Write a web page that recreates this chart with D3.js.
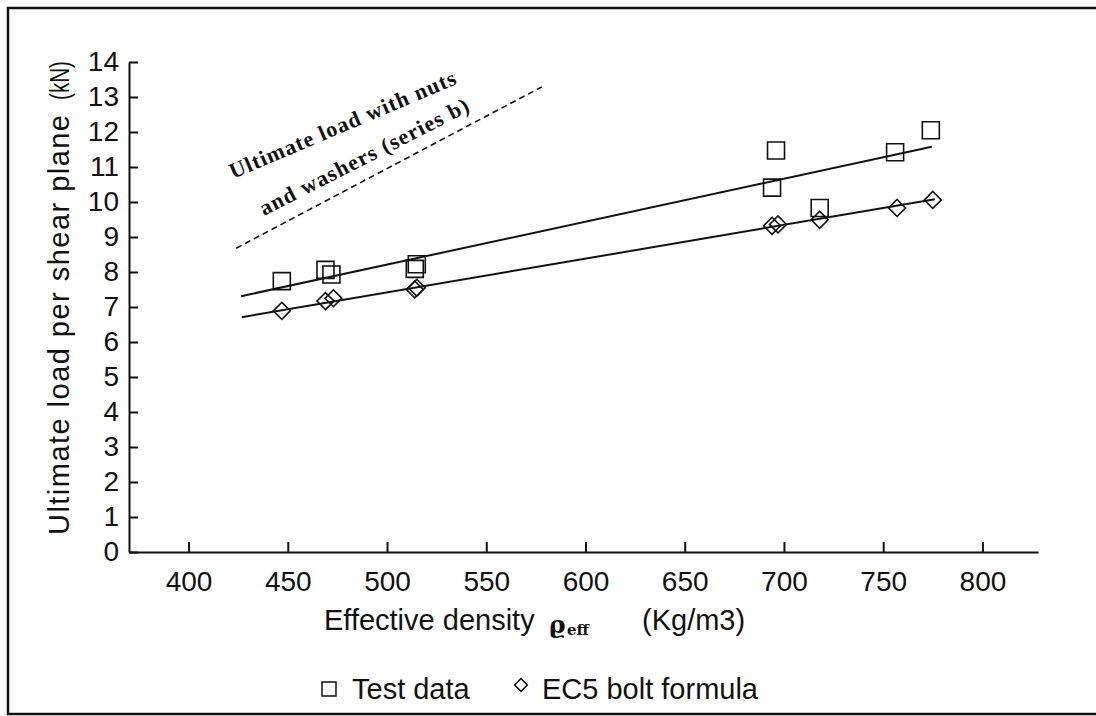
<!DOCTYPE html>
<html>
<head>
<meta charset="utf-8">
<script src="https://cdn.jsdelivr.net/npm/d3@7"></script>
<style>
  body { margin: 0; background: #fff; }
  #chart { width: 1096px; height: 716px; }
  text { font-family: "Liberation Sans", Arial, sans-serif; fill: #111; }
</style>
</head>
<body>
<div id="chart"></div>
<script>
// test data (squares)
const testDensity = [447, 469, 472, 514, 515, 694, 696, 718, 756, 774];
const testLoad = [7.74, 8.06, 7.93, 8.09, 8.22, 10.41, 11.47, 9.83, 11.42, 12.05];

// EC5 bolt formula (diamonds)
const ec5Density = [447, 469, 473, 514, 515, 694, 697, 718, 757, 775];
const ec5Load = [6.89, 7.17, 7.25, 7.50, 7.55, 9.32, 9.36, 9.49, 9.83, 10.06];

// fitted lines, end points
const testFitDensity = [426.5, 774.5];
const testFitLoad = [7.31, 11.58];
const ec5FitDensity = [426.8, 776];
const ec5FitLoad = [6.71, 10.08];

// series b (nuts and washers), dashed
const seriesBDensity = [424, 578];
const seriesBLoad = [8.68, 13.29];

const xTicks = [400, 450, 500, 550, 600, 650, 700, 750, 800];
const yTicks = d3.range(0, 15);

class DensityChart {

    constructor(_config) {
        this.config = {
            parentElement: _config.parentElement,
            width: 1096,
            height: 716
        }
        this.initVis();
    }

    initVis() {
        let vis = this;

        vis.svg = d3.select(vis.config.parentElement).append('svg')
            .attr('width', vis.config.width)
            .attr('height', vis.config.height);

        vis.svg.append('rect')
            .attr('width', vis.config.width)
            .attr('height', vis.config.height)
            .attr('fill', '#fff');

        // scanned frame: top, left and bottom
        vis.svg.append('path')
            .attr('d', 'M1096,8H8V714H1096')
            .attr('fill', 'none')
            .attr('stroke', '#111')
            .attr('stroke-width', 2.5);

        vis.x = d3.scaleLinear()
            .domain([370, 828])
            .range([129, 1038]);

        vis.y = d3.scaleLinear()
            .domain([0, 14])
            .range([552, 62]);

        vis.xAxis = d3.axisBottom(vis.x)
            .tickValues(xTicks)
            .tickSizeInner(-10)
            .tickSizeOuter(0)
            .tickPadding(19);

        vis.yAxis = d3.axisLeft(vis.y)
            .tickValues(yTicks)
            .tickSizeInner(-9)
            .tickSizeOuter(0)
            .tickPadding(10);

        vis.svg.append('g')
            .attr('class', 'x-axis')
            .attr('transform', `translate(0,${vis.y(0)})`);

        vis.svg.append('g')
            .attr('class', 'y-axis')
            .attr('transform', `translate(${vis.x(370)},0)`);

        vis.updateVis();
    }

    updateVis() {
        let vis = this;

        vis.svg.select('.x-axis').call(vis.xAxis);
        vis.svg.select('.y-axis').call(vis.yAxis);

        vis.svg.selectAll('.domain, .tick line')
            .attr('stroke', '#111')
            .attr('stroke-width', 2);

        vis.svg.selectAll('.tick text')
            .attr('fill', '#111')
            .style('font-family', '"Liberation Sans", Arial, sans-serif')
            .style('font-size', '28px');

        const line = d3.line()
            .x(d => vis.x(d[0]))
            .y(d => vis.y(d[1]));

        vis.svg.append('path')
            .datum(d3.zip(seriesBDensity, seriesBLoad))
            .attr('d', line)
            .attr('fill', 'none')
            .attr('stroke', '#111')
            .attr('stroke-width', 1.6)
            .attr('stroke-dasharray', '6,4');

        vis.svg.selectAll('.fit')
            .data([d3.zip(testFitDensity, testFitLoad), d3.zip(ec5FitDensity, ec5FitLoad)])
            .join('path')
            .attr('class', 'fit')
            .attr('d', line)
            .attr('fill', 'none')
            .attr('stroke', '#111')
            .attr('stroke-width', 2);

        vis.svg.selectAll('.square')
            .data(d3.zip(testDensity, testLoad))
            .join('path')
            .attr('class', 'square')
            .attr('d', d3.symbol(d3.symbolSquare, 17 * 17))
            .attr('transform', d => `translate(${vis.x(d[0])},${vis.y(d[1])})`)
            .attr('fill', 'none')
            .attr('stroke', '#111')
            .attr('stroke-width', 1.6);

        vis.svg.selectAll('.diamond')
            .data(d3.zip(ec5Density, ec5Load))
            .join('path')
            .attr('class', 'diamond')
            .attr('d', d3.symbol(d3.symbolSquare, 12 * 12))
            .attr('transform', d => `translate(${vis.x(d[0])},${vis.y(d[1])}) rotate(45)`)
            .attr('fill', 'none')
            .attr('stroke', '#111')
            .attr('stroke-width', 1.6);

        // annotation for series b
        vis.svg.append('text')
            .attr('transform', 'translate(233,179) rotate(-23)')
            .attr('textLength', 244)
            .style('font-family', '"Liberation Serif", "Times New Roman", serif')
            .style('font-size', '22px')
            .style('font-weight', 'bold')
            .text('Ultimate load with nuts');

        vis.svg.append('text')
            .attr('transform', 'translate(264,216) rotate(-27)')
            .attr('textLength', 232)
            .style('font-family', '"Liberation Serif", "Times New Roman", serif')
            .style('font-size', '22px')
            .style('font-weight', 'bold')
            .text('and washers (series b)');

        // y label
        vis.svg.append('text')
            .attr('transform', 'translate(69,535) rotate(-90)')
            .attr('textLength', 420)
            .style('font-size', '29px')
            .text('Ultimate load per shear plane');

        vis.svg.append('text')
            .attr('transform', 'translate(69,100) rotate(-90)')
            .attr('textLength', 39)
            .attr('lengthAdjust', 'spacingAndGlyphs')
            .style('font-size', '27px')
            .text('(kN)');

        // x label
        vis.svg.append('text')
            .attr('x', 324).attr('y', 630)
            .style('font-size', '29px')
            .text('Effective density');

        vis.svg.append('text')
            .attr('x', 549).attr('y', 633)
            .style('font-family', '"DejaVu Serif", serif')
            .style('font-size', '25px')
            .style('font-weight', 'bold')
            .text('ϱ');

        vis.svg.append('text')
            .attr('x', 567).attr('y', 635)
            .style('font-family', '"DejaVu Serif", serif')
            .style('font-size', '15px')
            .style('font-weight', 'bold')
            .text('eff');

        vis.svg.append('text')
            .attr('x', 642).attr('y', 630)
            .style('font-size', '29px')
            .text('(Kg/m3)');

        // legend
        const legend = vis.svg.append('g').attr('class', 'legend');

        legend.append('path')
            .attr('d', d3.symbol(d3.symbolSquare, 14 * 14))
            .attr('transform', 'translate(329,689)')
            .attr('fill', 'none')
            .attr('stroke', '#111')
            .attr('stroke-width', 1.5);

        legend.append('text')
            .attr('x', 352).attr('y', 699)
            .style('font-size', '29px')
            .text('Test data');

        legend.append('path')
            .attr('d', d3.symbol(d3.symbolSquare, 9 * 9))
            .attr('transform', 'translate(521,685) rotate(45)')
            .attr('fill', 'none')
            .attr('stroke', '#111')
            .attr('stroke-width', 1.5);

        legend.append('text')
            .attr('x', 542).attr('y', 699)
            .style('font-size', '29px')
            .text('EC5 bolt formula');
    }
}

new DensityChart({ parentElement: '#chart' });
</script>
</body>
</html>
